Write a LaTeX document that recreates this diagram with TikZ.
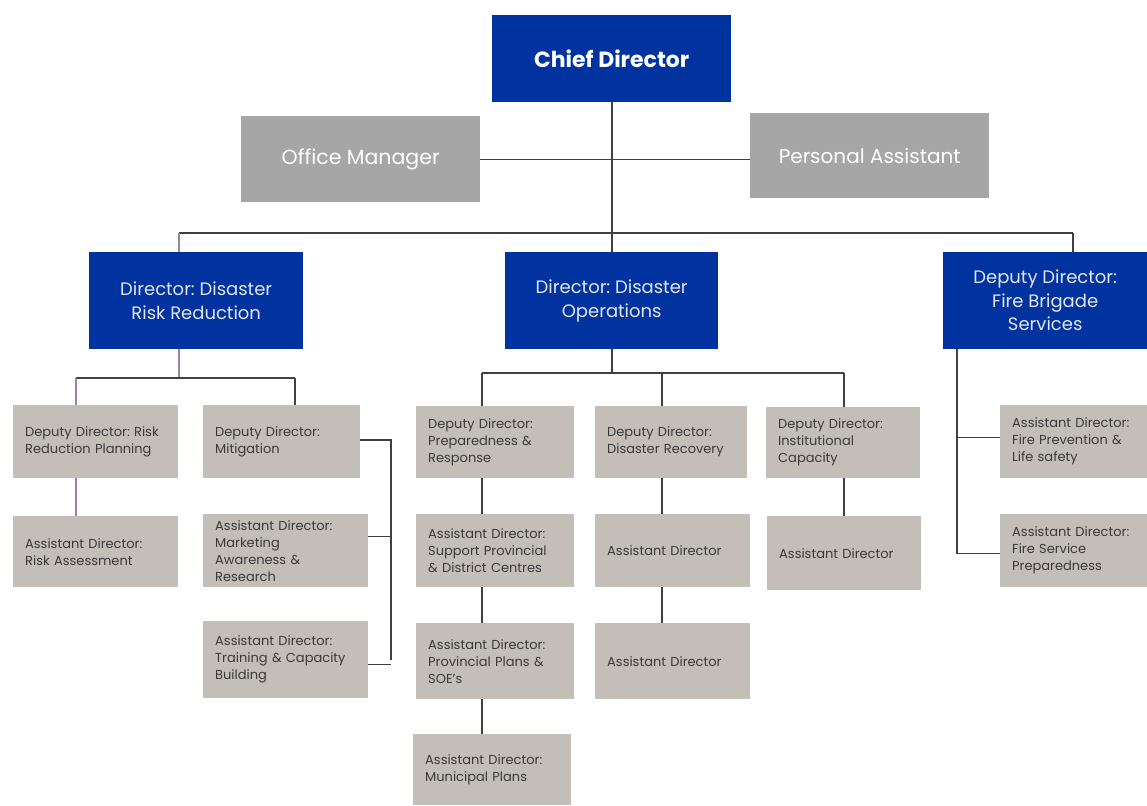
\documentclass[tikz,border=0pt]{standalone}
\usepackage{fontspec}
\setmainfont{Poppins}
\usetikzlibrary{calc}
\frenchspacing
\definecolor{bluebox}{HTML}{0033A0}
\definecolor{midgrey}{HTML}{A6A6A6}
\definecolor{lightgrey}{HTML}{C3BEB7}
\definecolor{bluetext}{HTML}{E2E6F5}
\definecolor{greytext}{HTML}{3A3A3A}
\definecolor{linecol}{HTML}{404040}
\definecolor{purpleline}{HTML}{A080A0}
\tikzset{
  bbox/.style={fill=bluebox, text=bluetext, anchor=north west, align=center, inner sep=0pt},
  mbox/.style={fill=midgrey, text=white, anchor=north west, align=center, inner sep=0pt},
  gbox/.style={fill=lightgrey, text=greytext, anchor=north west, align=left, inner xsep=12pt, inner ysep=0pt,
               font=\fontsize{13}{17}\selectfont},
  ln/.style={draw=linecol, line width=1.2pt},
  pl/.style={draw=purpleline, line width=1.2pt},
}
\begin{document}
\begin{tikzpicture}[x=1pt,y=-1pt]
\useasboundingbox (0,0) rectangle (1147,805);
% top level
\node[bbox, text=white, minimum width=239pt, minimum height=87pt, font=\fontsize{22}{26}\selectfont\bfseries] (chief) at (492,15) {Chief Director};
\node[mbox, minimum width=239pt, minimum height=86pt, font=\fontsize{20.5}{24}\selectfont] (om) at (241,116) {Office Manager};
\node[mbox, minimum width=239pt, minimum height=85pt, font=\fontsize{20}{24}\selectfont] (pa) at (750,113) {Personal Assistant};
% directors
\node[bbox, minimum width=214pt, minimum height=97pt, font=\fontsize{18}{24}\selectfont] (drr) at (89,252) {Director: Disaster\\Risk Reduction};
\node[bbox, minimum width=213pt, minimum height=97pt, font=\fontsize{18}{24}\selectfont] (do) at (505,252) {Director: Disaster\\Operations};
\node[bbox, minimum width=204pt, minimum height=97pt, font=\fontsize{18}{23.5}\selectfont] (fire) at (943,252) {Deputy Director:\\Fire Brigade\\Services};
% DRR branch
\node[gbox, text width=141pt, minimum height=73pt] (ddrrp) at (13,405) {Deputy Director: Risk\\Reduction Planning};
\node[gbox, text width=133pt, minimum height=73pt] (ddmit) at (203,405) {Deputy Director:\\Mitigation};
\node[gbox, text width=141pt, minimum height=71pt] (adra) at (13,516) {Assistant Director:\\Risk Assessment};
\node[gbox, text width=141pt, minimum height=73pt] (admk) at (203,514) {Assistant Director:\\Marketing\\Awareness \&\\Research};
\node[gbox, text width=141pt, minimum height=77pt] (adtr) at (203,621) {Assistant Director:\\Training \& Capacity\\Building};
% DO branch
\node[gbox, text width=134pt, minimum height=72pt] (ddpr) at (416,406) {Deputy Director:\\Preparedness \&\\Response};
\node[gbox, text width=128pt, minimum height=72pt] (ddrec) at (595,406) {Deputy Director:\\Disaster Recovery};
\node[gbox, text width=130pt, minimum height=71pt] (ddic) at (766,407) {Deputy Director:\\Institutional\\Capacity};
\node[gbox, text width=134pt, minimum height=73pt] (adsp) at (416,514) {Assistant Director:\\Support Provincial\\\& District Centres};
\node[gbox, text width=131pt, minimum height=73pt] (adr1) at (595,514) {Assistant Director};
\node[gbox, text width=130pt, minimum height=74pt] (adic) at (767,516) {Assistant Director};
\node[gbox, text width=134pt, minimum height=76pt] (adpp) at (416,623) {Assistant Director:\\Provincial Plans \&\\SOE's};
\node[gbox, text width=131pt, minimum height=76pt] (adr2) at (595,623) {Assistant Director};
\node[gbox, text width=134pt, minimum height=71pt] (admp) at (413,734) {Assistant Director:\\Municipal Plans};
% Fire branch
\node[gbox, text width=123pt, minimum height=73pt] (adfp) at (1000,405) {Assistant Director:\\Fire Prevention \&\\Life safety};
\node[gbox, text width=123pt, minimum height=73pt] (adfs) at (1000,514) {Assistant Director:\\Fire Service\\Preparedness};
% connectors: top
\coordinate (tb) at (612,233);
\coordinate (tl) at (179,233);
\coordinate (tr) at (1073,233);
\draw[ln] (chief.south -| tb) -- (tb);
\draw[ln] (om.east) -- (om.east -| pa.west);
\draw[ln] (tl) -- (tr);
\draw[pl] (tl) -- (tl |- drr.north);
\draw[ln] (tr) -- (tr |- fire.north);
\draw[ln] (tb) -- (tb |- do.north);
% DRR connectors
\coordinate (d1) at (179,378);
\coordinate (d1l) at (76,378);
\coordinate (d1r) at (295,378);
\draw[pl] (d1 |- drr.south) -- (d1);
\draw[ln] (d1l) -- (d1r);
\draw[pl] (d1l) -- (d1l |- ddrrp.north);
\draw[ln] (d1r) -- (d1r |- ddmit.north);
\draw[pl] (d1l |- ddrrp.south) -- (d1l |- adra.north);
\coordinate (mx) at (391,440);
\draw[ln] (ddmit.east |- mx) -- (mx) -- (mx |- adtr.east) ++(0,5) -- ($(adtr.east)+(0,5)$);
\draw[ln] ($(admk.east)+(0,-14)$) -- ($(admk.east -| mx)+(0,-14)$);
% DO connectors
\coordinate (o1) at (612,373);
\coordinate (o1l) at (482,373);
\coordinate (o1m) at (662,373);
\coordinate (o1r) at (844,373);
\draw[ln] (o1 |- do.south) -- (o1);
\draw[ln] (o1l) -- (o1r);
\draw[ln] (o1l) -- (o1l |- ddpr.north);
\draw[ln] (o1m) -- (o1m |- ddrec.north);
\draw[ln] (o1r) -- (o1r |- ddic.north);
\draw[ln] (o1l |- ddpr.south) -- (o1l |- adsp.north);
\draw[ln] (o1l |- adsp.south) -- (o1l |- adpp.north);
\draw[ln] (o1l |- adpp.south) -- (o1l |- admp.north);
\draw[ln] (o1m |- ddrec.south) -- (o1m |- adr1.north);
\draw[ln] (o1m |- adr1.south) -- (o1m |- adr2.north);
\draw[ln] (o1r |- ddic.south) -- (o1r |- adic.north);
% Fire connectors
\coordinate (fx) at (957,0);
\draw[ln] (fx |- fire.south) -- ($(fx |- adfs.west)+(0,3)$) -- ($(adfs.west)+(0,3)$);
\draw[ln] ($(fx |- adfp.west)+(0,-4)$) -- ($(adfp.west)+(0,-4)$);
\end{tikzpicture}
\end{document}
